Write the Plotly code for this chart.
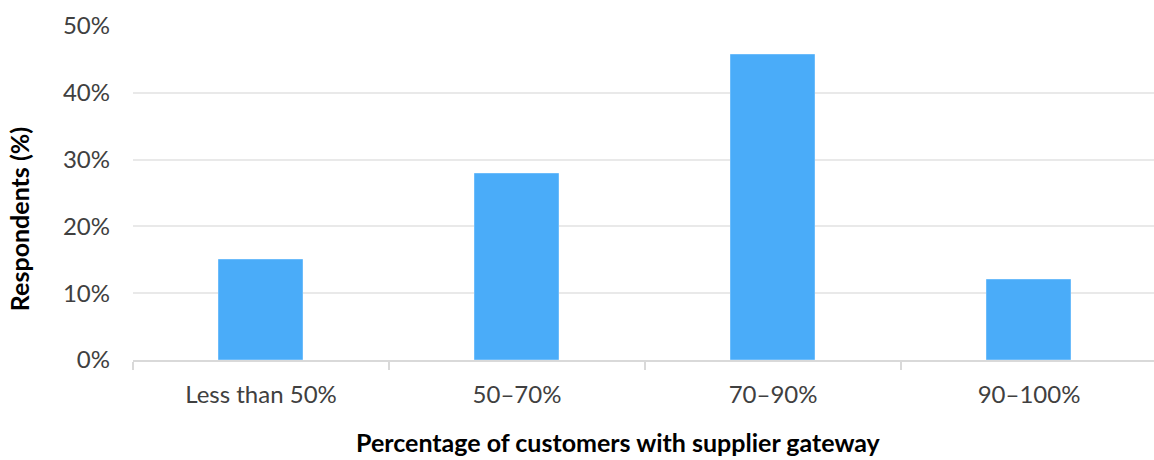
import plotly.graph_objects as go

categories = ["Less than 50%", "50–70%", "70–90%", "90–100%"]
respondents_pct = [15, 27.8, 45.7, 12]
y_ticks = [0, 10, 20, 30, 40, 50]
y_tick_labels = ["0%", "10%", "20%", "30%", "40%", "50%"]

BAR_COLOR = "#4aacf9"
FONT = "Lato"

fig = go.Figure(
    go.Bar(
        x=categories,
        y=respondents_pct,
        width=0.325,
        marker=dict(color=BAR_COLOR, line=dict(color="#6cbcfb", width=1)),
        hoverinfo="x+y",
    )
)

fig.update_layout(
    width=1154,
    height=460,
    margin=dict(l=133, r=0, t=26, b=100),
    paper_bgcolor="white",
    plot_bgcolor="white",
    showlegend=False,
    font=dict(family=FONT, size=24, color="#404040"),
    bargap=0,
    annotations=[
        dict(
            text="<b>Percentage of customers with supplier gateway</b>",
            xref="paper", yref="paper",
            x=(618 - 133) / 1021, y=-(442 - 360) / 334,
            xanchor="center", yanchor="middle",
            showarrow=False,
            font=dict(family=FONT, size=25, color="#000000"),
        ),
        dict(
            text="<b>Respondents (%)</b>",
            xref="paper", yref="paper",
            x=-0.112, y=(360 - 219.5) / 334,
            xanchor="center", yanchor="middle",
            textangle=-90,
            showarrow=False,
            font=dict(family=FONT, size=25, color="#000000"),
        ),
    ],
)

fig.update_xaxes(
    type="category",
    range=[-0.5, 3.488],
    showgrid=False,
    showline=True,
    linecolor="#d9d9d9",
    linewidth=2,
    ticks="outside",
    tickson="boundaries",
    ticklen=8,
    tickwidth=2,
    tickcolor="#d9d9d9",
    ticklabelstandoff=12,
    tickfont=dict(family=FONT, size=24, color="#404040"),
    zeroline=False,
)

fig.update_yaxes(
    range=[0, 50],
    tickvals=y_ticks,
    ticktext=y_tick_labels,
    showgrid=True,
    gridcolor="#e9e9e9",
    gridwidth=1.5,
    showline=False,
    zeroline=False,
    ticks="",
    ticklabelstandoff=22,
    tickfont=dict(family=FONT, size=24, color="#404040"),
)

fig.write_html("out.html")
